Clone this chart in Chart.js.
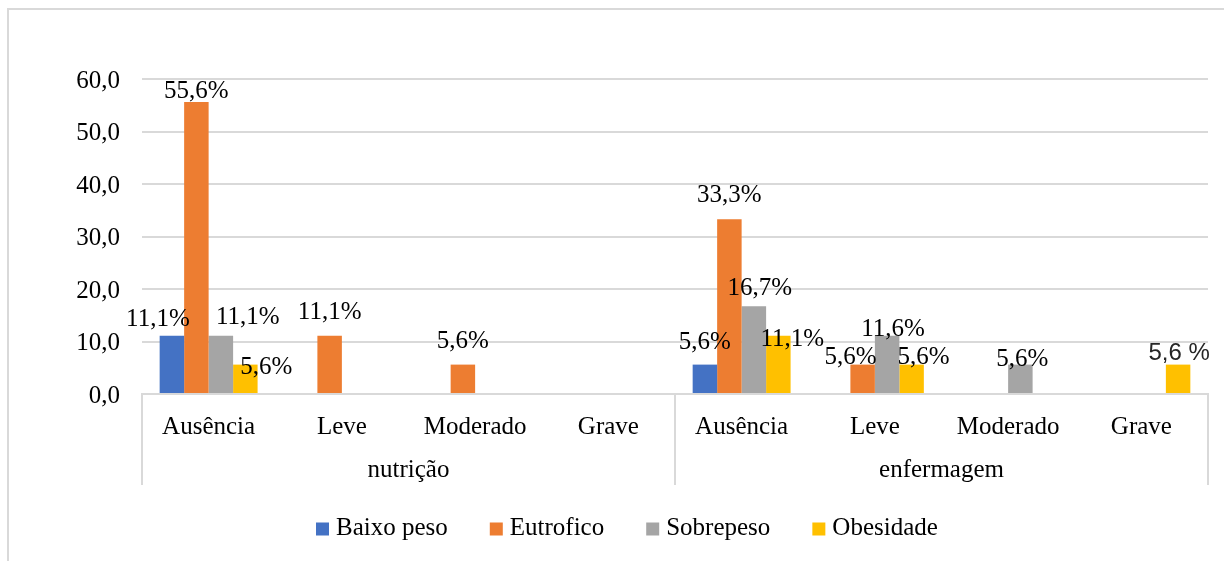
<!DOCTYPE html>
<html>
<head>
<meta charset="utf-8">
<script src="https://cdn.jsdelivr.net/npm/chart.js@4/dist/chart.umd.min.js"></script>
<style>
  html, body { margin: 0; padding: 0; background: #fff; }
  #wrap { position: relative; width: 1224px; height: 561px; }
</style>
</head>
<body>
<div id="wrap"><canvas id="c"></canvas></div>
<script>
// ---- data ----
const groups = ['nutrição', 'enfermagem'];
const categories = ['Ausência', 'Leve', 'Moderado', 'Grave', 'Ausência', 'Leve', 'Moderado', 'Grave'];
const seriesNames = ['Baixo peso', 'Eutrofico', 'Sobrepeso', 'Obesidade'];
const baixoPeso = [11.1, 0, 0, 0, 5.6, 0, 0, 0];
const eutrofico = [55.6, 11.1, 5.6, 0, 33.3, 5.6, 0, 0];
const sobrepeso = [11.1, 0, 0, 0, 16.7, 11.1, 5.6, 0];
const obesidade = [5.6, 0, 0, 0, 11.1, 5.6, 0, 5.6];
const baixoPesoLabels = ['11,1%', null, null, null, '5,6%', null, null, null];
const eutroficoLabels = ['55,6%', '11,1%', '5,6%', null, '33,3%', '5,6%', null, null];
const sobrepesoLabels = ['11,1%', null, null, null, '16,7%', '11,6%', '5,6%', null];
const obesidadeLabels = ['5,6%', null, null, null, '11,1%', '5,6%', null, '5,6 %'];
const yTickLabels = ['0,0', '10,0', '20,0', '30,0', '40,0', '50,0', '60,0'];

// ---- styles ----
const SERIF = '"Liberation Serif", "Times New Roman", serif';
const SANS = '"Liberation Sans", Arial, sans-serif';
const colors = ['#4472C4', '#ED7D31', '#A5A5A5', '#FFC000'];
const lineGray = '#d9d9d9';
const seriesValues = [baixoPeso, eutrofico, sobrepeso, obesidade];
const seriesLabels = [baixoPesoLabels, eutroficoLabels, sobrepesoLabels, obesidadeLabels];

// manual label nudges (dx, gap above bar top), like the reference
const labelNudges = {
  '0:0': {dx: -14, gap: 10},
  '1:0': {dx: 0, gap: 4},
  '2:0': {dx: 27, gap: 12},
  '3:0': {dx: 21, gap: -9},
  '0:4': {dx: 0, gap: 16},
  '2:4': {dx: 6, gap: 11},
  '3:4': {dx: 14, gap: -10},
  '1:5': {dx: -12, gap: 1},
  '2:5': {dx: 6, gap: 0},
  '3:5': {dx: 12, gap: 1},
  '2:6': {dx: 2, gap: -1},
  '3:7': {dx: 1, gap: 5, font: '24px ' + SANS, color: '#262626'}
};

const bgPlugin = {
  id: 'bg',
  beforeDraw(chart) {
    const ctx = chart.ctx;
    ctx.save();
    ctx.fillStyle = '#fff';
    ctx.fillRect(0, 0, chart.width, chart.height);
    ctx.strokeStyle = lineGray;
    ctx.lineWidth = 2;
    ctx.beginPath();
    ctx.moveTo(8, chart.height);
    ctx.lineTo(8, 9);
    ctx.lineTo(chart.width, 9);
    ctx.stroke();
    ctx.restore();
  }
};

const labelPlugin = {
  id: 'barLabels',
  afterDatasetsDraw(chart) {
    const ctx = chart.ctx;
    ctx.save();
    ctx.textAlign = 'center';
    ctx.textBaseline = 'alphabetic';
    chart.data.datasets.forEach((ds, di) => {
      const meta = chart.getDatasetMeta(di);
      meta.data.forEach((bar, i) => {
        const txt = seriesLabels[di][i];
        if (!txt) return;
        const n = labelNudges[di + ':' + i] || {dx: 0, gap: 17};
        ctx.font = n.font || ('25px ' + SERIF);
        ctx.fillStyle = n.color || '#000';
        ctx.fillText(txt, bar.x + n.dx, bar.y - n.gap);
      });
    });
    ctx.restore();
  }
};

const groupAxisPlugin = {
  id: 'groupAxis',
  afterDraw(chart) {
    const ctx = chart.ctx;
    const xs = chart.scales.x;
    const per = categories.length / groups.length;
    const top = xs.top;
    const bottom = 485;
    ctx.save();
    ctx.strokeStyle = lineGray;
    ctx.lineWidth = 2;
    const bounds = [xs.left];
    for (let g = 1; g < groups.length; g++) {
      bounds.push((xs.getPixelForValue(g * per - 1) + xs.getPixelForValue(g * per)) / 2);
    }
    bounds.push(xs.right);
    ctx.beginPath();
    bounds.forEach(bx => { ctx.moveTo(bx, top); ctx.lineTo(bx, bottom); });
    ctx.stroke();
    ctx.font = '25px ' + SERIF;
    ctx.fillStyle = '#000';
    ctx.textAlign = 'center';
    ctx.textBaseline = 'alphabetic';
    groups.forEach((g, gi) => {
      ctx.fillText(g, (bounds[gi] + bounds[gi + 1]) / 2, 477);
    });
    // legend
    let lx = 316;
    const ly = 535;
    ctx.textAlign = 'left';
    chart.data.datasets.forEach((ds, di) => {
      ctx.fillStyle = ds.backgroundColor;
      ctx.fillRect(lx, ly - 12.5, 13, 13);
      ctx.fillStyle = '#000';
      ctx.fillText(ds.label, lx + 20, ly);
      lx += 20 + ctx.measureText(ds.label).width + 42;
    });
    ctx.restore();
  }
};

new Chart(document.getElementById('c'), {
  type: 'bar',
  data: {
    labels: categories,
    datasets: seriesNames.map((name, i) => ({
      label: name,
      data: seriesValues[i],
      backgroundColor: colors[i],
      borderWidth: 0,
      categoryPercentage: 0.735,
      barPercentage: 1
    }))
  },
  options: {
    responsive: true,
    maintainAspectRatio: false,
    animation: false,
    layout: { padding: { top: 79, right: 16, left: 0, bottom: 0 } },
    plugins: { legend: { display: false }, tooltip: { enabled: false } },
    scales: {
      x: {
        grid: { display: false, drawTicks: false },
        border: { display: true, color: lineGray, width: 2 },
        ticks: { color: '#000', font: { family: SERIF, size: 25 }, padding: 18, maxRotation: 0, autoSkip: false },
        afterFit(scale) { scale.height = 167; }
      },
      y: {
        min: 0, max: 60,
        grid: { color: lineGray, lineWidth: 2, drawTicks: false },
        border: { display: false },
        ticks: {
          stepSize: 10,
          color: '#000',
          font: { family: SERIF, size: 25 },
          padding: 22,
          labelOffset: 2,
          callback: (v, idx) => yTickLabels[idx]
        },
        afterFit(scale) { scale.width = 142; }
      }
    }
  },
  plugins: [bgPlugin, labelPlugin, groupAxisPlugin]
});
</script>
</body>
</html>
